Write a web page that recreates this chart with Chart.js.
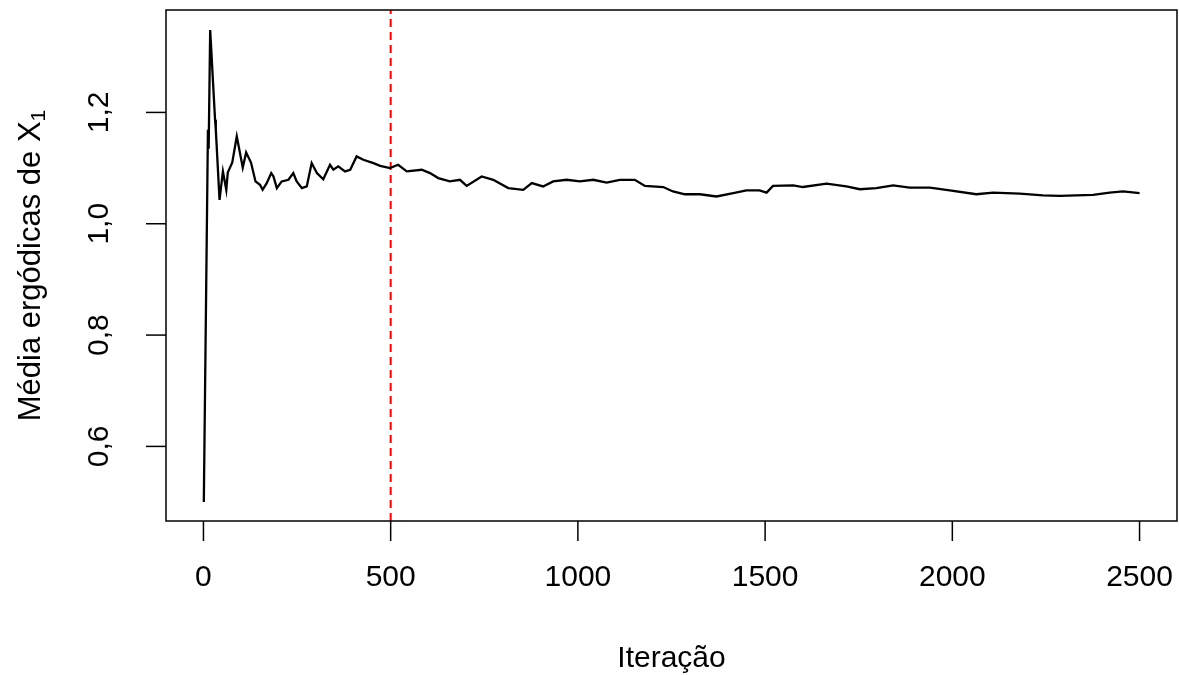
<!DOCTYPE html>
<html>
<head>
<meta charset="utf-8">
<script src="https://cdn.jsdelivr.net/npm/chart.js@4/dist/chart.umd.min.js"></script>
<style>
  html, body { margin: 0; padding: 0; background: #fff; }
  #wrap { width: 1179px; height: 675px; }
</style>
</head>
<body>
<div id="wrap"><canvas id="ergChart" width="1179" height="675"></canvas></div>
<script>
// iteração (x) e média ergódica (y)
const iteracoes = [1, 12, 13, 14, 18, 31, 33, 43, 52, 61, 65, 77, 89, 105, 114, 127, 139, 151, 158, 169,
    181, 187, 196, 209, 227, 240, 249, 263, 276, 289, 303, 320, 338, 347, 360, 378, 392, 409, 427, 454,
    472, 498, 520, 543, 583, 605, 627, 658, 685, 703, 743, 774, 814, 854, 877, 907, 934, 970, 1005, 1041,
    1077, 1112, 1152, 1179, 1228, 1254, 1286, 1326, 1370, 1415, 1450, 1485, 1504, 1521, 1575, 1601, 1664, 1717, 1753, 1797,
    1842, 1886, 1940, 1993, 2064, 2109, 2180, 2242, 2287, 2331, 2376, 2420, 2456, 2500];
const mediaX1 = [0.500, 1.169, 1.137, 1.140, 1.348, 1.187, 1.169, 1.043, 1.094, 1.061, 1.092, 1.110, 1.157, 1.101, 1.128, 1.110, 1.076, 1.070, 1.061, 1.073,
    1.091, 1.085, 1.064, 1.076, 1.079, 1.091, 1.076, 1.064, 1.067, 1.109, 1.091, 1.080, 1.106, 1.097, 1.103, 1.094, 1.097, 1.121, 1.115, 1.109,
    1.104, 1.100, 1.106, 1.094, 1.097, 1.091, 1.082, 1.076, 1.079, 1.068, 1.085, 1.079, 1.064, 1.061, 1.073, 1.067, 1.076, 1.079, 1.076, 1.079,
    1.074, 1.079, 1.079, 1.068, 1.066, 1.058, 1.053, 1.053, 1.049, 1.055, 1.060, 1.060, 1.056, 1.068, 1.069, 1.066, 1.072, 1.067, 1.062, 1.064,
    1.069, 1.065, 1.065, 1.060, 1.053, 1.056, 1.054, 1.051, 1.050, 1.051, 1.052, 1.056, 1.058, 1.055];

const burnIn = 500;
const xTicks = [0, 500, 1000, 1500, 2000, 2500];
const yTicks = [0.6, 0.8, 1.0, 1.2];
const yTickLabels = ["0,6", "0,8", "1,0", "1,2"];

const xMin = -100, xMax = 2600;
const yMin = 0.466, yMax = 1.384;

const font = '"Liberation Sans", Arial, sans-serif';

// eixos, caixa e textos no estilo do R base
const rAxes = {
    id: "rAxes",
    afterDraw(chart) {
        const ctx = chart.ctx;
        const area = chart.chartArea;
        const xs = chart.scales.x, ys = chart.scales.y;
        ctx.save();
        ctx.strokeStyle = "#000";
        ctx.fillStyle = "#000";
        ctx.lineWidth = 1.5;
        ctx.strokeRect(area.left, area.top, area.right - area.left, area.bottom - area.top);

        // eixo x
        ctx.font = "30px " + font;
        ctx.textAlign = "center";
        ctx.textBaseline = "middle";
        xTicks.forEach(v => {
            const px = xs.getPixelForValue(v);
            ctx.beginPath();
            ctx.moveTo(px, area.bottom);
            ctx.lineTo(px, area.bottom + 20);
            ctx.stroke();
            ctx.fillText(String(v), px, area.bottom + 57);
        });
        ctx.fillText("Iteração", (area.left + area.right) / 2, area.bottom + 138);

        // eixo y
        yTicks.forEach((v, i) => {
            const py = ys.getPixelForValue(v);
            ctx.beginPath();
            ctx.moveTo(area.left, py);
            ctx.lineTo(area.left - 20, py);
            ctx.stroke();
            ctx.save();
            ctx.translate(area.left - 66, py);
            ctx.rotate(-Math.PI / 2);
            ctx.fillText(yTickLabels[i], 0, 0);
            ctx.restore();
        });

        // título do eixo y com subscrito
        const main = "Média ergódicas de X";
        ctx.save();
        ctx.translate(31, (area.top + area.bottom) / 2);
        ctx.rotate(-Math.PI / 2);
        ctx.font = "31px " + font;
        const w1 = ctx.measureText(main).width;
        ctx.font = "21px " + font;
        const w2 = ctx.measureText("1").width;
        const start = -(w1 + w2) / 2;
        ctx.textAlign = "left";
        ctx.font = "31px " + font;
        ctx.fillText(main, start, 0);
        ctx.font = "21px " + font;
        ctx.fillText("1", start + w1, 8);
        ctx.restore();

        ctx.restore();
    }
};

const ctx = document.getElementById("ergChart").getContext("2d");
new Chart(ctx, {
    type: "line",
    data: {
        datasets: [{
            label: "Média ergódica",
            data: iteracoes.map((it, i) => ({ x: it, y: mediaX1[i] })),
            borderColor: "#000",
            borderWidth: 2.3,
            pointRadius: 0,
            tension: 0,
            fill: false
        }, {
            label: "Burn-in",
            data: [{ x: burnIn, y: yMin }, { x: burnIn, y: yMax }],
            borderColor: "#ff0000",
            borderWidth: 2,
            borderDash: [8, 5],
            pointRadius: 0,
            fill: false
        }]
    },
    options: {
        responsive: false,
        animation: false,
        layout: { padding: { left: 166, right: 2, top: 10, bottom: 154 } },
        plugins: {
            legend: { display: false },
            tooltip: { enabled: false }
        },
        scales: {
            x: { type: "linear", min: xMin, max: xMax, display: false },
            y: { type: "linear", min: yMin, max: yMax, display: false }
        }
    },
    plugins: [rAxes]
});
</script>
</body>
</html>
